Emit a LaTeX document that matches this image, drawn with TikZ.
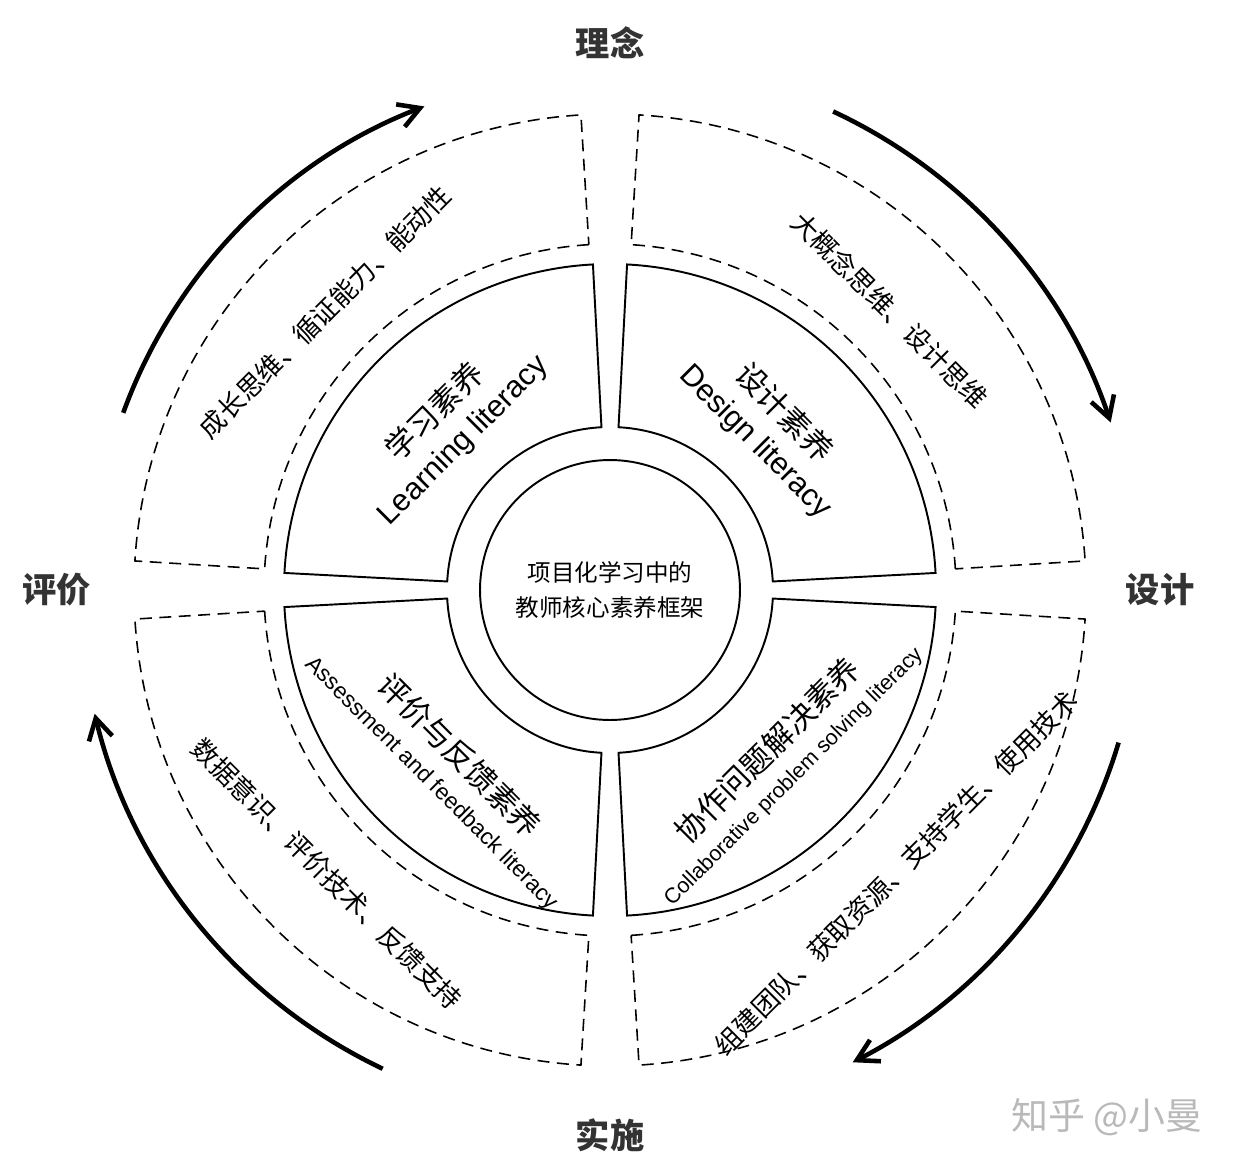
\documentclass[tikz,border=0pt]{standalone}
\usepackage{fontspec}
\usepackage{xcolor}
\usepackage{tikz}
\usetikzlibrary{arrows.meta}
\setmainfont{Liberation Sans}
\newfontfamily\cjk{Noto Sans CJK SC}
\definecolor{inkgray}{RGB}{51,51,51}
\definecolor{markgray}{RGB}{185,185,185}

\begin{document}
\begin{tikzpicture}[x=0.02cm, y=0.02cm, seg/.style={draw, line width=1.1pt}, dashseg/.style={draw, line width=0.9pt, dash pattern=on 2.4mm off 1.5mm}, cyc/.style={-{Straight Barb[length=4.2mm, width=4.8mm]}, line width=2.6pt}, ringtxt/.style={align=center, inner sep=0pt, font=\fontsize{17.5}{22}\selectfont}, outtxt/.style={inner sep=0pt, font=\cjk\fontsize{15}{18}\selectfont}, stage/.style={font=\cjk\bfseries\fontsize{19.5}{24}\selectfont, text=inkgray}]
\useasboundingbox (-610,-577) rectangle (626,590);
% two rings of quarter sectors
\foreach \a in {0,90,180,270}{
  \draw[seg] (\a+3:163) arc[start angle=\a+3, end angle=\a+87, radius=163] -- (\a+87:326) arc[start angle=\a+87, end angle=\a+3, radius=326] -- cycle;
  \draw[dashseg] (\a+3.5:346) arc[start angle=\a+3.5, end angle=\a+86.5, radius=346] -- (\a+86.5:476) arc[start angle=\a+86.5, end angle=\a+3.5, radius=476] -- cycle;
}
\node[circle, draw, line width=1.1pt, minimum size=5.2cm, align=center, font=\cjk\fontsize{13.4}{20}\selectfont] (core) at (0,0) {项目化学习中的\\教师核心素养框架};
% inner ring
\node[ringtxt, rotate=45] (learn) at (-161,164) {{\cjk 学习素养}\\Learning literacy};
\node[ringtxt, rotate=-45] (design) at (160,163) {{\cjk 设计素养}\\Design literacy};
\node[ringtxt, rotate=-45] (assess) at (-163,-178) {{\cjk 评价与反馈素养}\\[-2.5pt]{\fontsize{13}{15}\selectfont Assessment and feedback literacy}};
\node[ringtxt, rotate=45] (collab) at (169,-172) {{\cjk 协作问题解决素养}\\[-3.7pt]{\fontsize{12.2}{15}\selectfont Collaborative problem solving literacy}};
% outer ring
\node[outtxt, rotate=45] (growth) at (-285,278) {成长思维、循证能力、能动性};
\node[outtxt, rotate=-45] (concept) at (280,280) {大概念思维、设计思维};
\node[outtxt, rotate=-45] (data) at (-283,-284) {数据意识、评价技术、反馈支持};
\node[outtxt, rotate=45] (team) at (286,-283) {组建团队、获取资源、支持学生、使用技术};
% stages and cycle
\node[stage] (idea) at (0,547) {理念};
\node[stage] (plan) at (550,0) {设计};
\node[stage] (act) at (0,-545) {实施};
\node[stage] (eval) at (-553,0) {评价};
\draw[cyc] (160:518) arc[start angle=160, end angle=111, radius=518];
\draw[cyc] (65:528) arc[start angle=65, end angle=18.5, radius=528];
\draw[cyc] (-16.7:531) arc[start angle=-16.7, end angle=-62.8, radius=531];
\draw[cyc] (-115.4:530) arc[start angle=-115.4, end angle=-166.5, radius=530];
\node[font=\cjk\fontsize{21}{24}\selectfont, text=markgray] (mark) at (497,-527) {知乎 @小曼};
\end{tikzpicture}
\end{document}
